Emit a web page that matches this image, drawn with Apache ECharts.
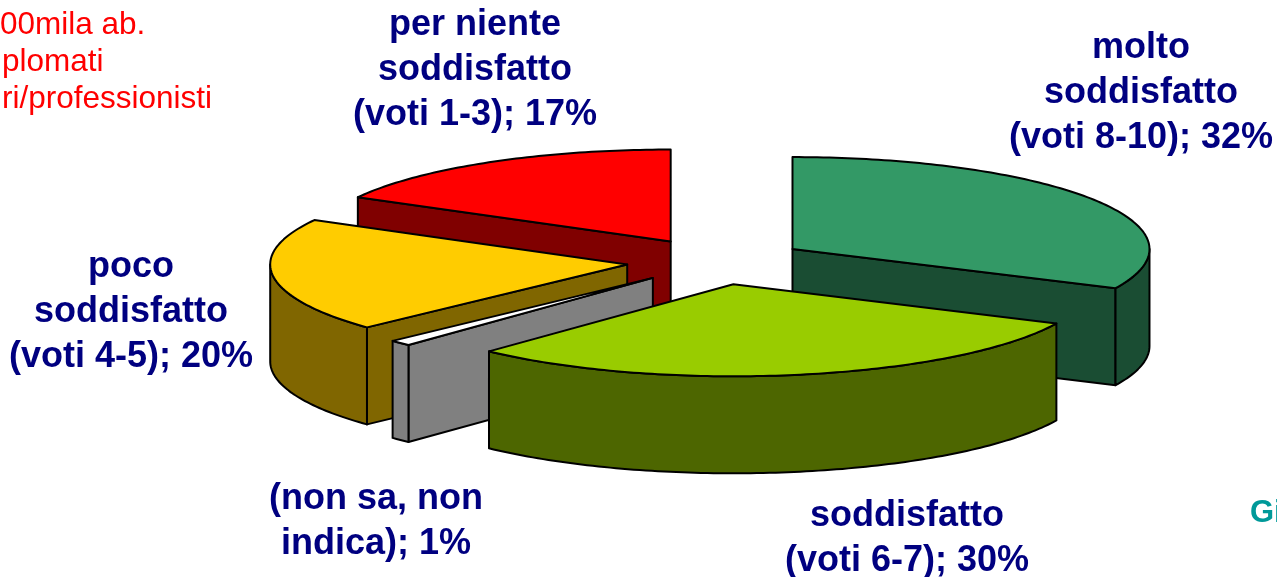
<!DOCTYPE html>
<html>
<head>
<meta charset="utf-8">
<style>html,body{margin:0;padding:0;background:#fff}#c{width:1277px;height:577px}</style>
<script src="https://cdn.jsdelivr.net/npm/echarts@6/dist/echarts.min.js"></script>
</head>
<body>
<div id="c"></div>
<script>
// data
const categories = [
  'molto\nsoddisfatto\n(voti 8-10)',
  'soddisfatto\n(voti 6-7)',
  '(non sa, non\nindica)',
  'poco\nsoddisfatto\n(voti 4-5)',
  'per niente\nsoddisfatto\n(voti 1-3)'
];
const shares = [32, 30, 1, 20, 17];
const topColors = ['#339966', '#99cc00', '#ffffff', '#ffcc00', '#ff0000'];
const sideColors = ['#1a4d33', '#4d6600', '#808080', '#806600', '#800000'];
const noteLines = ['00mila ab.', 'plomati', 'ri/professionisti'];
const cornerText = 'Gi';

// layout of the projected pie
const cx = 716.5, cy = 261.5, rx = 357, ry = 92, depth = 97, explode = 90;
const labelAt = [[1141, 93.5], [907, 539], [376, 522], [131, 312.5], [475, 70.5]];
const noteAt = [[0, 25], [2, 62], [2, 99]];
const font = '"Liberation Sans", Arial, sans-serif';

const total = shares.reduce((a, b) => a + b, 0);
const rad = d => d * Math.PI / 180;
let acc = 0;
const slices = shares.map((v, i) => {
  const a0 = acc / total * 360; acc += v;
  const a1 = acc / total * 360;
  const mid = rad((a0 + a1) / 2);
  return { i, v, a0, a1,
    ax: cx + explode * Math.sin(mid),
    ay: cy - explode * (ry / rx) * Math.cos(mid) };
});
// painter's order: farthest apex first
const drawOrder = slices.slice().sort((a, b) => a.ay - b.ay);

function arcPt(s, deg, dz) {
  return [s.ax + rx * Math.sin(rad(deg)), s.ay - ry * Math.cos(rad(deg)) + (dz || 0)];
}
function arcPts(s, from, to, dz) {
  const pts = [], n = Math.max(2, Math.ceil(Math.abs(to - from)));
  for (let k = 0; k <= n; k++) pts.push(arcPt(s, from + (to - from) * k / n, dz));
  return pts;
}
const edge = { stroke: '#000', lineWidth: 2, lineJoin: 'round' };
function poly(points, fill) {
  return { type: 'polygon', shape: { points }, style: Object.assign({ fill }, edge) };
}
function cutFace(s, deg, fill) {
  const p = arcPt(s, deg);
  return poly([[s.ax, s.ay], p, [p[0], p[1] + depth], [s.ax, s.ay + depth]], fill);
}

function renderItem(params, api) {
  const s = drawOrder[api.value(0)];
  const side = sideColors[s.i];
  const kids = [];
  if (Math.sin(rad(s.a0)) < -1e-6) kids.push(cutFace(s, s.a0, side));
  if (Math.sin(rad(s.a1)) > 1e-6) kids.push(cutFace(s, s.a1, side));
  const f0 = Math.max(s.a0, 90), f1 = Math.min(s.a1, 270);
  if (f1 > f0) {
    kids.push(poly(arcPts(s, f0, f1, 0).concat(arcPts(s, f1, f0, depth)), side));
  }
  kids.push(poly([[s.ax, s.ay]].concat(arcPts(s, s.a0, s.a1, 0)), topColors[s.i]));
  return { type: 'group', children: kids };
}

const labelElements = slices.map(s => ({
  type: 'text',
  x: labelAt[s.i][0],
  y: labelAt[s.i][1],
  style: {
    text: categories[s.i] + '; ' + s.v + '%',
    align: 'center',
    verticalAlign: 'middle',
    fill: '#000080',
    font: 'bold 36px ' + font,
    lineHeight: 45
  }
}));
const noteElements = noteLines.map((line, i) => ({
  type: 'text',
  x: noteAt[i][0],
  y: noteAt[i][1],
  style: { text: line, verticalAlign: 'middle', fill: '#ff0000', font: '31.5px ' + font }
}));

const chart = echarts.init(document.getElementById('c'), null, { renderer: 'canvas' });
chart.setOption({
  animation: false,
  backgroundColor: '#ffffff',
  series: [{
    type: 'custom',
    coordinateSystem: 'none',
    silent: true,
    renderItem,
    data: drawOrder.map((s, k) => [k, s.v])
  }],
  graphic: labelElements.concat(noteElements, [
    { type: 'text', x: 1250, y: 498, style: { text: cornerText, fill: '#009999', font: 'bold 31px ' + font } }
  ])
});
</script>
</body>
</html>
